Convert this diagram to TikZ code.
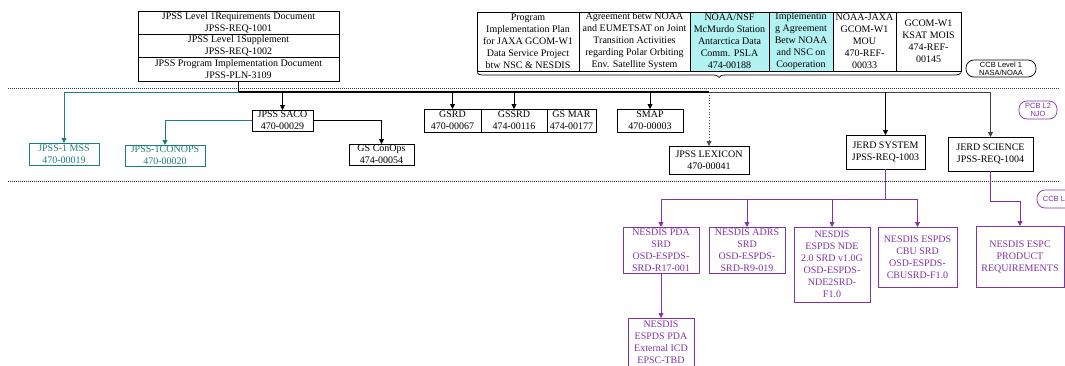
\documentclass[tikz,border=0pt]{standalone}
\usepackage{fontspec}
\setmainfont{Liberation Serif}
\newfontfamily\pillfont{Liberation Sans}
\usepackage{tikz}
\usetikzlibrary{positioning, arrows.meta, decorations.pathreplacing}
\definecolor{docteal}{RGB}{30,125,125}
\definecolor{docpurple}{RGB}{130,50,165}
\definecolor{doccyan}{RGB}{178,242,242}

\begin{document}
\begin{tikzpicture}[x=1pt, y=-1pt,
    doc/.style={draw, line width=0.8pt, inner sep=0pt, outer sep=0pt, align=center, font=\fontsize{10}{12}\selectfont},
    tealdoc/.style={doc, draw=docteal, text=docteal},
    purpdoc/.style={doc, draw=docpurple, text=docpurple},
    pill/.style={draw, rounded corners=8pt, line width=0.7pt, inner sep=0pt, align=center, font=\pillfont\fontsize{7.5}{8}\selectfont},
    link/.style={-{Triangle[length=5pt, width=5pt]}, line width=0.8pt},
    level/.style={line width=0.8pt, dash pattern=on 1pt off 1pt, black!80}]

    \useasboundingbox (0,0) rectangle (1065,365);

    % level separators
    \draw [level] (8,88) -- (1060,88);
    \draw [level] (8,181) -- (1060,181);

    % level 1 documents
    \node (ReqA) [doc, minimum width=201pt, minimum height=23pt] at (238.5,22.5) {JPSS Level 1Requirements Document\\JPSS-REQ-1001};
    \node (ReqB) [doc, minimum width=201pt, minimum height=23pt, below=0pt of ReqA] {JPSS Level 1Supplement\\JPSS-REQ-1002};
    \node (ReqC) [doc, minimum width=201pt, minimum height=24pt, below=0pt of ReqB] {JPSS Program Implementation Document\\JPSS-PLN-3109};

    \node (Jaxa) [doc, minimum width=102pt, minimum height=59pt] at (528,41.5) {Program\\Implementation Plan\\for JAXA GCOM-W1\\Data Service Project\\btw NSC \& NESDIS};
    \node (Eumetsat) [doc, minimum width=111pt, minimum height=59pt, right=0pt of Jaxa] {Agreement betw NOAA\\and EUMETSAT on Joint\\Transition Activities\\regarding Polar Orbiting\\Env. Satellite System};
    \node (Mcmurdo) [doc, fill=doccyan, minimum width=79pt, minimum height=59pt, right=0pt of Eumetsat] {NOAA/NSF\\McMurdo Station\\Antarctica Data\\Comm. PSLA\\474-00188};
    \node (Nsc) [doc, fill=doccyan, minimum width=64pt, minimum height=59pt, right=0pt of Mcmurdo] {Implementin\\g Agreement\\Betw NOAA\\and NSC on\\Cooperation};
    \node (Mou) [doc, minimum width=63pt, minimum height=59pt, right=0pt of Nsc] {NOAA-JAXA\\GCOM-W1\\MOU\\470-REF-\\00033};
    \node (Mois) [doc, minimum width=65pt, minimum height=59pt, right=0pt of Mou] {GCOM-W1\\KSAT MOIS\\474-REF-\\00145};
    \draw [decorate, decoration={brace, mirror, amplitude=5pt}, line width=0.7pt] ([yshift=-1.5pt]Jaxa.south west) -- ([yshift=-1.5pt]Mois.south east);

    % board labels
    \node (Ccb1) [pill, minimum width=70pt, minimum height=17pt] at (1001,68.5) {CCB Level 1\\NASA/NOAA};
    \node (Pcb2) [pill, draw=docpurple, text=docpurple, minimum width=38pt, minimum height=18pt] at (1038,110) {PCB L2\\NJO};
    \node (Ccb2) [pill, draw=docpurple, text=docpurple, minimum width=38pt, minimum height=18pt] at (1056,199) {CCB L2};

    % level 2 documents
    \coordinate (J) at (238.5,92);
    \node (Mss) [tealdoc, minimum width=70pt, minimum height=22pt] at (64,154) {JPSS-1 MSS\\470-00019};
    \node (Saco) [doc, minimum width=61pt, minimum height=21pt] at (282.5,120.5) {JPSS SACO\\470-00029};
    \node (Conops) [tealdoc, minimum width=80pt, minimum height=21pt] at (165,155.5) {JPSS-1CONOPS\\470-00020};
    \node (GsConops) [doc, minimum width=65pt, minimum height=21pt] at (381.5,154.5) {GS ConOps\\474-00054};
    \node (Gsrd) [doc, minimum width=57pt, minimum height=23pt] at (452.5,120.5) {GSRD\\470-00067};
    \node (Gssrd) [doc, minimum width=66pt, minimum height=23pt, right=0pt of Gsrd] {GSSRD\\474-00116};
    \node (Gsmar) [doc, minimum width=49pt, minimum height=23pt, right=0pt of Gssrd] {GS MAR\\474-00177};
    \node (Smap) [doc, minimum width=66pt, minimum height=23pt] at (650,120.5) {SMAP\\470-00003};
    \node (Lexicon) [doc, minimum width=80pt, minimum height=28pt] at (709,160) {JPSS LEXICON\\470-00041};
    \node (System) [doc, minimum width=79pt, minimum height=34pt] at (885.5,152) {JERD SYSTEM\\JPSS-REQ-1003};
    \node (Science) [doc, minimum width=85pt, minimum height=34pt] at (990.5,154) {JERD SCIENCE\\JPSS-REQ-1004};

    \draw [line width=0.8pt] (ReqC.south) -- (J);
    \draw [link, docteal] (J) -| (Mss.north);
    \draw [line width=1.2pt] (J) -- (Lexicon.north |- J);
    \draw [link, black!75] (Lexicon.north |- J) -| (Science.north);
    \draw [link] (Saco.north |- J) -- (Saco.north);
    \draw [link] (Gsrd.north |- J) -- (Gsrd.north);
    \draw [link] (Gssrd.north |- J) -- (Gssrd.north);
    \draw [link] (Smap.north |- J) -- (Smap.north);
    \draw [link, black!70, dotted] (Lexicon.north |- J) -- (Lexicon.north);
    \draw [link] (System.north |- J) -- (System.north);
    \draw [link, docteal] (Saco.west) -| (Conops.north);
    \draw [link] (Saco.east) -| (GsConops.north);

    % level 3 documents
    \node (PdaSrd) [purpdoc, minimum width=76pt, minimum height=46pt] at (661,250) {NESDIS PDA\\SRD\\OSD-ESPDS-\\SRD-R17-001};
    \node (AdrsSrd) [purpdoc, minimum width=76pt, minimum height=46pt] at (747,250) {NESDIS ADRS\\SRD\\OSD-ESPDS-\\SRD-R9-019};
    \node (NdeSrd) [purpdoc, minimum width=76pt, minimum height=75pt] at (832,264.5) {NESDIS\\ESPDS NDE\\2.0 SRD v1.0G\\OSD-ESPDS-\\NDE2SRD-\\F1.0};
    \node (CbuSrd) [purpdoc, minimum width=79pt, minimum height=60pt] at (917.5,257) {NESDIS ESPDS\\CBU SRD\\OSD-ESPDS-\\CBUSRD-F1.0};
    \node (EspcReq) [purpdoc, minimum width=88pt, minimum height=61pt] at (1020,256.5) {NESDIS ESPC\\PRODUCT\\REQUIREMENTS};
    \node (PdaIcd) [purpdoc, minimum width=66pt, minimum height=48pt] at (661,342) {NESDIS\\ESPDS PDA\\External ICD\\EPSC-TBD};

    \coordinate (PBus) at (885.5,199);
    \coordinate (SBend) at (1020,201);
    \draw [line width=0.8pt, docpurple] (System.south) -- (PBus);
    \draw [link, docpurple] (PBus) -| (PdaSrd.north);
    \draw [link, docpurple] (PBus) -| (AdrsSrd.north);
    \draw [link, docpurple] (PBus) -| (NdeSrd.north);
    \draw [link, docpurple] (PBus) -| (CbuSrd.north);
    \draw [link, docpurple] (Science.south) |- (SBend) -- (EspcReq.north);
    \draw [link, docpurple] (PdaSrd.south) -- (PdaIcd.north);
\end{tikzpicture}
\end{document}
